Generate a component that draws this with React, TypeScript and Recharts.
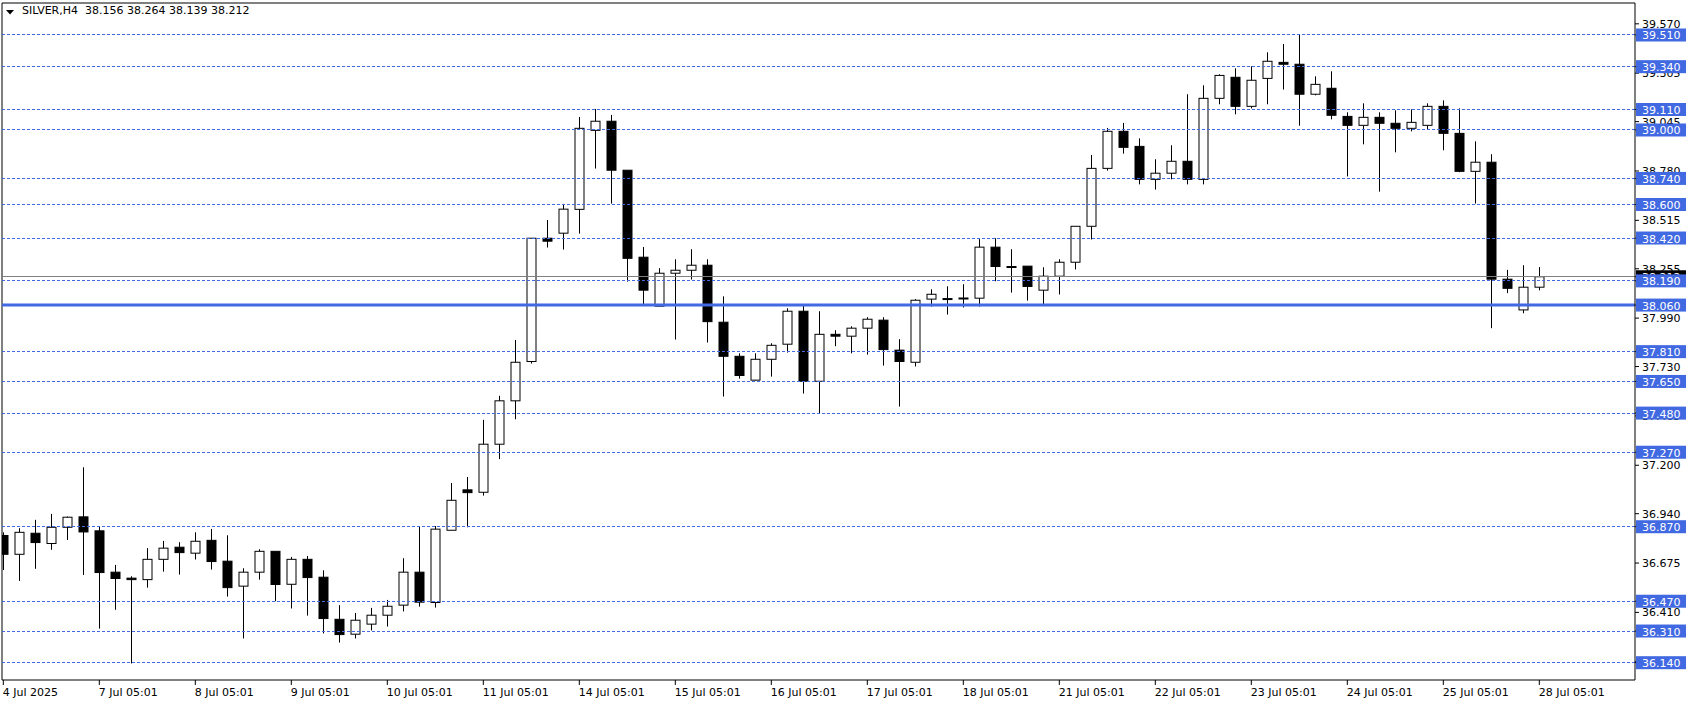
import React from "react";
import { Bar, ComposedChart, ReferenceLine, XAxis, YAxis } from "recharts";

// SILVER H4 candles (oldest first)
const opens = [
  36.823, 36.722, 36.835, 36.78, 36.867, 36.923, 36.848, 36.626, 36.594, 36.586,
  36.695, 36.76, 36.728, 36.797, 36.685, 36.551, 36.626, 36.738, 36.561, 36.695,
  36.599, 36.373, 36.293, 36.347, 36.395, 36.449, 36.626, 36.463, 36.851, 37.068,
  37.055, 37.313, 37.546, 37.757, 38.419, 38.446, 38.574, 38.998, 39.047, 38.784,
  38.317, 38.054, 38.231, 38.247, 38.274, 37.968, 37.785, 37.657, 37.769, 37.85,
  38.027, 37.651, 37.903, 37.893, 37.936, 37.979, 37.818, 37.753, 38.092, 38.092,
  38.098, 38.097, 38.371, 38.267, 38.269, 38.14, 38.215, 38.29, 38.483, 38.794,
  38.993, 38.912, 38.735, 38.768, 38.832, 38.735, 39.17, 39.283, 39.127, 39.277,
  39.363, 39.353, 39.192, 39.224, 39.073, 39.025, 39.068, 39.036, 39.009, 39.025,
  39.127, 38.982, 38.778, 38.827, 38.199, 38.034, 38.156,
];
const highs = [
  36.84, 36.862, 36.907, 36.939, 36.925, 37.189, 36.869, 36.665, 36.604, 36.755,
  36.794, 36.787, 36.84, 36.858, 36.824, 36.647, 36.749, 36.738, 36.708, 36.713,
  36.636, 36.449, 36.407, 36.434, 36.477, 36.701, 36.873, 36.874, 37.105, 37.137,
  37.444, 37.573, 37.873, 38.419, 38.517, 38.603, 39.07, 39.113, 39.081, 38.784,
  38.372, 38.258, 38.306, 38.36, 38.306, 38.107, 37.801, 37.801, 37.855, 38.043,
  38.064, 38.027, 37.925, 37.946, 37.995, 37.995, 37.877, 38.092, 38.145, 38.161,
  38.172, 38.414, 38.419, 38.36, 38.269, 38.263, 38.306, 38.483, 38.866, 39.011,
  39.038, 38.955, 38.843, 38.918, 39.192, 39.24, 39.299, 39.331, 39.342, 39.417,
  39.462, 39.51, 39.288, 39.315, 39.095, 39.143, 39.095, 39.106, 39.111, 39.143,
  39.159, 39.116, 38.939, 38.87, 38.249, 38.274, 38.264,
];
const lows = [
  36.638, 36.579, 36.644, 36.746, 36.799, 36.611, 36.323, 36.424, 36.136, 36.543,
  36.629, 36.613, 36.694, 36.64, 36.495, 36.27, 36.586, 36.47, 36.431, 36.393,
  36.297, 36.248, 36.27, 36.313, 36.334, 36.415, 36.441, 36.436, 36.851, 36.867,
  37.037, 37.233, 37.447, 37.746, 38.369, 38.358, 38.444, 38.793, 38.605, 38.186,
  38.057, 38.054, 37.875, 38.197, 37.859, 37.569, 37.665, 37.655, 37.676, 37.805,
  37.585, 37.479, 37.839, 37.801, 37.794, 37.735, 37.515, 37.73, 38.052, 38.009,
  38.047, 38.052, 38.188, 38.127, 38.084, 38.058, 38.117, 38.251, 38.412, 38.782,
  38.873, 38.708, 38.68, 38.735, 38.708, 38.708, 39.138, 39.084, 39.116, 39.138,
  39.217, 39.023, 39.186, 39.057, 38.751, 38.923, 38.669, 38.88, 38.993, 39.004,
  38.891, 38.773, 38.605, 37.936, 38.124, 38.016, 38.139,
];
const closes = [
  36.722, 36.84, 36.785, 36.867, 36.921, 36.842, 36.624, 36.592, 36.586, 36.695,
  36.755, 36.731, 36.792, 36.683, 36.543, 36.626, 36.738, 36.56, 36.695, 36.597,
  36.377, 36.291, 36.368, 36.395, 36.443, 36.626, 36.465, 36.857, 37.012, 37.053,
  37.313, 37.546, 37.753, 38.419, 38.403, 38.575, 39.009, 39.047, 38.784, 38.311,
  38.14, 38.231, 38.247, 38.274, 37.971, 37.785, 37.682, 37.769, 37.844, 38.027,
  37.651, 37.903, 37.893, 37.936, 37.984, 37.821, 37.757, 38.086, 38.118, 38.095,
  38.095, 38.371, 38.267, 38.265, 38.16, 38.215, 38.29, 38.483, 38.794, 38.993,
  38.907, 38.735, 38.768, 38.832, 38.735, 39.17, 39.293, 39.127, 39.267, 39.369,
  39.353, 39.192, 39.245, 39.079, 39.025, 39.068, 39.036, 39.009, 39.041, 39.127,
  38.982, 38.778, 38.827, 38.199, 38.15, 38.156, 38.212,
];

const dayTicks = [0, 6, 12, 18, 24, 30, 36, 42, 48, 54, 60, 66, 72, 78, 84, 90, 96];
const dayLabels = [
  "4 Jul 2025", "7 Jul 05:01", "8 Jul 05:01", "9 Jul 05:01", "10 Jul 05:01",
  "11 Jul 05:01", "14 Jul 05:01", "15 Jul 05:01", "16 Jul 05:01", "17 Jul 05:01",
  "18 Jul 05:01", "21 Jul 05:01", "22 Jul 05:01", "23 Jul 05:01", "24 Jul 05:01",
  "25 Jul 05:01", "28 Jul 05:01",
];
const priceTicks = [
  39.57, 39.305, 39.045, 38.78, 38.515, 38.255, 37.99, 37.73, 37.465, 37.2,
  36.94, 36.675, 36.41, 36.145,
];
const dashedLevels = [
  39.51, 39.34, 39.11, 39.0, 38.74, 38.6, 38.42, 38.19, 37.81, 37.65, 37.48,
  37.27, 36.87, 36.47, 36.31, 36.14,
];
const solidLevel = 38.06;
const bid = 38.212;
// price tags drawn by the right axis after the plain ticks; bid first so blue tags cover it
const tagValues = [bid, ...dashedLevels, solidLevel];
const axisTicks = [...priceTicks, ...tagValues];

const X_MIN = -0.08125;
const X_MAX = 101.98125;
const Y_MIN = 36.0471;
const Y_MAX = 39.6818;

const BLUE = "#4169e1";
const FONT = "DejaVu Sans";

const data = opens.map((o, i) => ({
  i,
  range: [lows[i], highs[i]],
  o,
  h: highs[i],
  l: lows[i],
  c: closes[i],
}));

const Candle = (props: any) => {
  const { x, y, width, height, payload } = props;
  if (!payload) return null;
  const { o, h, l, c } = payload;
  const top = Math.min(y, y + height);
  const span = Math.abs(height);
  const ppu = h > l ? span / (h - l) : 0;
  const py = (v: number) => top + (h - v) * ppu;
  const cx = Math.round(x + width / 2) + 0.5;
  const bTop = py(Math.max(o, c));
  const bBot = py(Math.min(o, c));
  const bodyH = Math.max(bBot - bTop, 1);
  return (
    <g>
      <line x1={cx} x2={cx} y1={py(h)} y2={py(l)} stroke="#000" strokeWidth={1} />
      <rect
        x={cx - 4.5}
        y={bTop}
        width={9}
        height={bodyH}
        fill={c >= o ? "#fff" : "#000"}
        stroke="#000"
        strokeWidth={1}
      />
    </g>
  );
};

const XTick = (props: any) => {
  const { x, payload } = props;
  const idx = dayTicks.indexOf(payload.value);
  return (
    <text x={x - 0.5} y={696} fontSize={11} fontFamily={FONT} fill="#000">
      {dayLabels[idx]}
    </text>
  );
};

const YTick = (props: any) => {
  const { y, payload, index } = props;
  const v = Number(payload.value);
  if (index >= priceTicks.length) {
    return (
      <g>
        <rect x={1636} y={y - 6.5} width={50} height={13} fill={v === bid ? "#000" : BLUE} />
        <text x={1642} y={y + 4.5} fontSize={11} fontFamily={FONT} fill="#fff">
          {v.toFixed(3)}
        </text>
      </g>
    );
  }
  return (
    <text x={1642} y={y + 4} fontSize={11} fontFamily={FONT} fill="#000">
      {v.toFixed(3)}
    </text>
  );
};

export default function App() {
  return (
    <div style={{ position: "relative", width: 1692, height: 704, background: "#fff" }}>
      <style>{"body{margin:0;background:#fff}"}</style>
      <ComposedChart
        width={1692}
        height={704}
        data={data}
        margin={{ top: 3, right: 0, bottom: 0, left: 2 }}
      >
        <XAxis
          dataKey="i"
          type="number"
          domain={[X_MIN, X_MAX]}
          allowDataOverflow
          ticks={dayTicks}
          interval={0}
          height={24}
          tickSize={5}
          tick={<XTick />}
          axisLine={{ stroke: "#000" }}
          tickLine={{ stroke: "#000" }}
        />
        <YAxis
          orientation="right"
          type="number"
          domain={[Y_MIN, Y_MAX]}
          allowDataOverflow
          ticks={axisTicks}
          interval={0}
          width={57}
          tickSize={4}
          tick={<YTick />}
          axisLine={{ stroke: "#000" }}
          tickLine={{ stroke: "#000" }}
        />
        <ReferenceLine x={X_MIN} stroke="#000" />
        <ReferenceLine y={Y_MAX} stroke="#000" />
        <ReferenceLine y={bid} stroke="#808080" shapeRendering="crispEdges" />
        {dashedLevels.map((v) => (
          <ReferenceLine key={v} y={v} stroke={BLUE} strokeDasharray="3 2" shapeRendering="crispEdges" />
        ))}
        <ReferenceLine y={solidLevel} stroke={BLUE} strokeWidth={3} />
        <Bar dataKey="range" barSize={10} shape={<Candle />} isAnimationActive={false} />
      </ComposedChart>
      <div
        style={{
          position: "absolute",
          left: 0,
          top: 0,
          height: 22,
          fontFamily: FONT,
          fontSize: 11,
          color: "#000",
          whiteSpace: "pre",
          pointerEvents: "none",
        }}
      >
        <svg width={16} height={20} style={{ position: "absolute", left: 0, top: 0 }}>
          <polygon points="6,10 14,10 10,14.5" fill="#000" />
        </svg>
        <span style={{ position: "absolute", left: 22, top: 4 }}>SILVER,H4  38.156 38.264 38.139 38.212</span>
      </div>
    </div>
  );
}
